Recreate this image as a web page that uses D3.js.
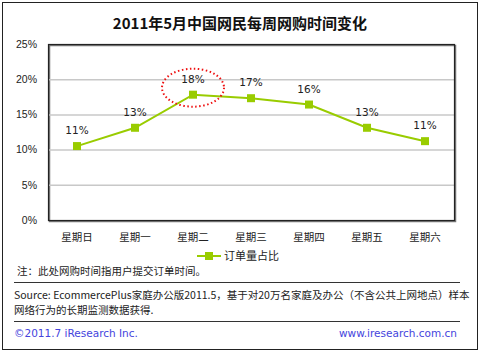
<!DOCTYPE html>
<html>
<head>
<meta charset="utf-8">
<script src="https://cdn.jsdelivr.net/npm/d3@7"></script>
<style>
  body { margin: 0; background: #fff; }
  svg { display: block; font-family: "DejaVu Sans", "Noto Sans CJK SC", sans-serif; }
</style>
</head>
<body>
<div id="chart"></div>
<script>
// data
const days = ['星期日', '星期一', '星期二', '星期三', '星期四', '星期五', '星期六'];
const orderShare = [10.5, 13.1, 17.8, 17.3, 16.4, 13.1, 11.2];
const pointLabels = ['11%', '13%', '18%', '17%', '16%', '13%', '11%'];
const yTicks = [0, 5, 10, 15, 20, 25];
const seriesName = '订单量占比';
const highlightDay = '星期二';

const width = 480, height = 353;
const margin = { top: 44, right: 26, bottom: 133, left: 48 };
const lineColor = '#99cc00';
const cjk = '"Noto Sans CJK SC", sans-serif';

const svg = d3.select('#chart').append('svg')
    .attr('width', width)
    .attr('height', height);

// outer frame
svg.append('rect')
    .attr('x', 2.5).attr('y', 2.5)
    .attr('width', 475).attr('height', 347)
    .attr('fill', '#fff')
    .attr('stroke', '#222')
    .attr('stroke-width', 1);

// title
svg.append('text')
    .attr('x', 240).attr('y', 29)
    .attr('text-anchor', 'middle')
    .style('font-family', cjk)
    .style('font-size', '15px')
    .style('font-weight', 'bold')
    .style('fill', '#111')
    .text('2011年5月中国网民每周网购时间变化');

const innerW = width - margin.left - margin.right;
const innerH = height - margin.top - margin.bottom;

const x = d3.scaleBand().domain(days).range([0, innerW]);
const y = d3.scaleLinear().domain([0, 25]).range([innerH, 0]);

const g = svg.append('g')
    .attr('transform', `translate(${margin.left},${margin.top})`);

// shadow of the plot box
g.append('rect')
    .attr('x', 1.5).attr('y', 1.5)
    .attr('width', innerW).attr('height', innerH)
    .attr('fill', 'none')
    .attr('stroke', '#777')
    .attr('stroke-width', 1.5);

// grid lines
g.selectAll('.grid')
    .data(yTicks.filter(d => d > 0 && d < 25))
    .enter().append('line')
    .attr('x1', 0).attr('x2', innerW)
    .attr('y1', d => y(d) + 0.5).attr('y2', d => y(d) + 0.5)
    .attr('stroke', '#c8c8c8')
    .attr('stroke-width', 1.5);

// plot box
g.append('rect')
    .attr('x', 0.5).attr('y', 0.5)
    .attr('width', innerW).attr('height', innerH)
    .attr('fill', 'none')
    .attr('stroke', '#222')
    .attr('stroke-width', 1.2);

// y axis labels
const yAxis = d3.axisLeft(y).tickValues(yTicks).tickSize(0).tickPadding(11)
    .tickFormat(d => d + '%');
g.append('g').call(yAxis)
    .call(s => s.select('.domain').remove())
    .selectAll('text')
    .style('font-size', '10.5px')
    .style('fill', '#222');

// x axis labels
const xAxis = d3.axisBottom(x).tickSize(0).tickPadding(14);
g.append('g')
    .attr('transform', `translate(0,${innerH})`)
    .call(xAxis)
    .call(s => s.select('.domain').remove())
    .selectAll('text')
    .style('font-family', cjk)
    .style('font-size', '10.5px')
    .style('fill', '#222');

const cx = d => x(d) + x.bandwidth() / 2;

// line
const line = d3.line()
    .x((d, i) => cx(days[i]))
    .y(d => y(d));

g.append('path')
    .datum(orderShare)
    .attr('d', line)
    .attr('fill', 'none')
    .attr('stroke', lineColor)
    .attr('stroke-width', 2);

// markers
g.selectAll('.marker')
    .data(orderShare)
    .enter().append('rect')
    .attr('x', (d, i) => cx(days[i]) - 4)
    .attr('y', d => y(d) - 4)
    .attr('width', 8).attr('height', 8)
    .attr('fill', lineColor);

// point labels
g.selectAll('.plabel')
    .data(orderShare)
    .enter().append('text')
    .attr('x', (d, i) => cx(days[i]))
    .attr('y', d => y(d) - 12)
    .attr('text-anchor', 'middle')
    .style('font-size', '10.5px')
    .style('fill', '#222')
    .text((d, i) => pointLabels[i]);

// red dotted ellipse around the peak label
const hi = days.indexOf(highlightDay);
g.append('ellipse')
    .attr('cx', cx(highlightDay))
    .attr('cy', y(orderShare[hi]) - 7)
    .attr('rx', 31).attr('ry', 19)
    .attr('fill', 'none')
    .attr('stroke', '#ee1111')
    .attr('stroke-width', 2)
    .attr('stroke-dasharray', '1.5,2.5');

// legend
const legend = svg.append('g').attr('transform', 'translate(197,256)');
legend.append('line')
    .attr('x1', 0).attr('x2', 24)
    .attr('stroke', lineColor).attr('stroke-width', 2);
legend.append('rect')
    .attr('x', 8).attr('y', -4)
    .attr('width', 8).attr('height', 8)
    .attr('fill', lineColor);
legend.append('text')
    .attr('x', 27).attr('y', 4)
    .style('font-family', cjk)
    .style('font-size', '11px')
    .style('fill', '#222')
    .text(seriesName);

// notes
svg.append('text')
    .attr('x', 17).attr('y', 275)
    .style('font-family', cjk)
    .style('font-size', '10.5px')
    .style('fill', '#222')
    .text('注：此处网购时间指用户提交订单时间。');

svg.append('line')
    .attr('x1', 14).attr('x2', 460)
    .attr('y1', 282.5).attr('y2', 282.5)
    .attr('stroke', '#333').attr('stroke-width', 1);

svg.append('text')
    .attr('x', 14).attr('y', 299)
    .style('font-family', cjk)
    .style('font-size', '10.5px')
    .style('fill', '#222')
    .text('Source: EcommercePlus家庭办公版2011.5，基于对20万名家庭及办公（不含公共上网地点）样本');

svg.append('text')
    .attr('x', 14).attr('y', 314)
    .style('font-family', cjk)
    .style('font-size', '10.5px')
    .style('fill', '#222')
    .text('网络行为的长期监测数据获得.');

svg.append('line')
    .attr('x1', 14).attr('x2', 460)
    .attr('y1', 321.5).attr('y2', 321.5)
    .attr('stroke', '#333').attr('stroke-width', 1);

svg.append('text')
    .attr('x', 14).attr('y', 337)
    .style('font-size', '10.5px')
    .style('fill', '#4444dd')
    .text('©2011.7 iResearch Inc.');

svg.append('text')
    .attr('x', 457).attr('y', 337)
    .attr('text-anchor', 'end')
    .style('font-size', '10.5px')
    .style('fill', '#4444dd')
    .text('www.iresearch.com.cn');
</script>
</body>
</html>
